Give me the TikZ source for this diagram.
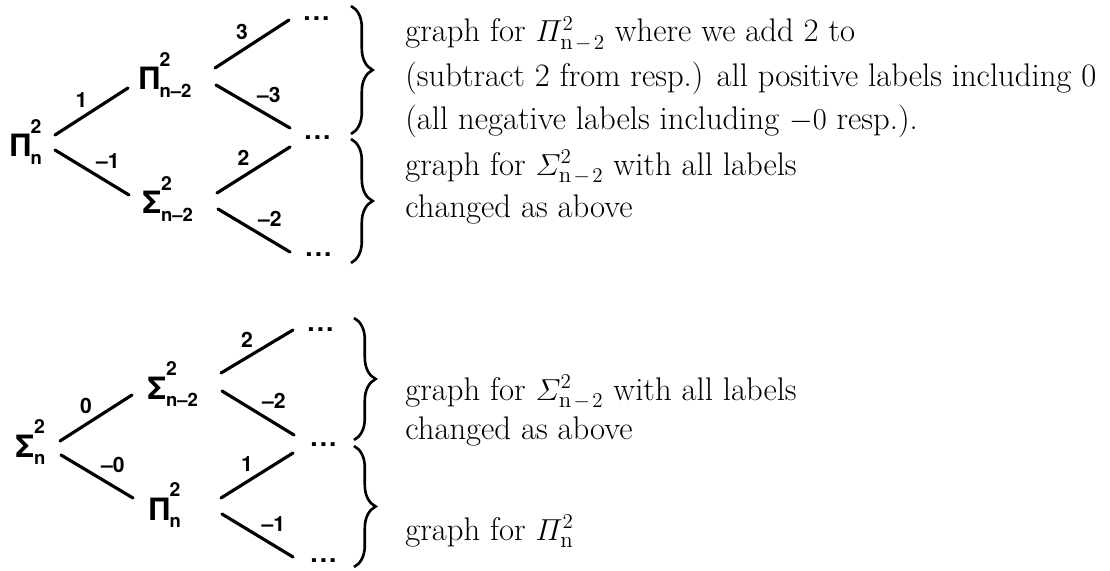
\documentclass[tikz,border=0pt]{standalone}
\usepackage{amsmath}
\usepackage{fontspec}
\newfontfamily\treefont{TeX Gyre Heros}
\usetikzlibrary{decorations.pathreplacing}

% big symbol with raised 2 and lowered index
\newcommand{\tsym}[3]{#1\rlap{\raisebox{13.5pt}{\fontsize{11}{11}\selectfont #2}}\raisebox{-4.5pt}{\fontsize{10.5}{11}\selectfont #3}}

\begin{document}
\begin{tikzpicture}[
    x=0.02cm, y=-0.02cm,
    tnode/.style={anchor=base west,inner sep=0pt,font=\treefont\bfseries\fontsize{17.5}{17.5}\selectfont},
    leaf/.style={anchor=base west,inner sep=0pt,font=\treefont\bfseries\fontsize{15}{15}\selectfont},
    elab/.style={auto,inner sep=1.5pt,font=\treefont\bfseries\fontsize{12}{12}\selectfont},
    branch/.style={line width=1.8pt,line cap=round},
    grpbrace/.style={decorate,decoration={brace,amplitude=12.3pt},line width=1.5pt},
    note/.style={anchor=base west,inner sep=0pt,font=\fontsize{18.6}{22}\selectfont}
]
\useasboundingbox (0,0) rectangle (1110,571);

% upper tree
\node[tnode] (r1) at (10,157) {\tsym{Π}{2}{n}};
\node[tnode] (a1) at (139,90) {\tsym{Π}{2}{n–2}};
\node[tnode] (b1) at (142,214) {\tsym{Σ}{2}{n–2}};
\node[leaf] (d1) at (303,21) {.\kern1.2pt.\kern1.2pt.};
\node[leaf] (d2) at (304,140) {.\kern1.2pt.\kern1.2pt.};
\node[leaf] (d3) at (305,256) {.\kern1.2pt.\kern1.2pt.};

\draw[branch] ([shift={(45,-22)}]r1.base west) -- node[elab] {1} ([shift={(-11,-2)}]a1.base west);
\draw[branch] ([shift={(45,-7)}]r1.base west) -- node[elab] {–1} ([shift={(-13,-19)}]b1.base west);
\draw[branch] ([shift={(76,-22)}]a1.base west) -- node[elab] {3} ([shift={(-14,-1)}]d1.base west);
\draw[branch] ([shift={(77,-5)}]a1.base west) -- node[elab] {–3} ([shift={(-14,-12)}]d2.base west);
\draw[branch] ([shift={(75,-21)}]b1.base west) -- node[elab] {2} ([shift={(-14,7)}]d2.base west);
\draw[branch] ([shift={(76,-5)}]b1.base west) -- node[elab] {–2} ([shift={(-15,-4)}]d3.base west);

\draw[grpbrace] (351,6) -- (351,134);
\draw[grpbrace] (351,139) -- (351,263);

\node[note] (t1) at (405,42) {graph for $\varPi^2_{\mathrm{n}\mskip2mu-\mskip2mu2}$ where we add 2 to};
\node[note] (t2) at (405,87) {(subtract 2 from resp.) all positive labels including 0};
\node[note] (t3) at (405,130) {(all negative labels including $-0$ resp.).};
\node[note] (t4) at (405,175) {graph for $\varSigma^2_{\mathrm{n}\mskip2mu-\mskip2mu2}$ with all labels};
\node[note] (t5) at (405,217) {changed as above};

% lower tree
\node[tnode] (r2) at (15,457) {\tsym{Σ}{2}{n}};
\node[tnode] (a2) at (147,399) {\tsym{Σ}{2}{n–2}};
\node[tnode] (b2) at (149,520) {\tsym{Π}{2}{n}};
\node[leaf] (d4) at (307,331) {.\kern1.2pt.\kern1.2pt.};
\node[leaf] (d5) at (310,446) {.\kern1.2pt.\kern1.2pt.};
\node[leaf] (d6) at (310,562) {.\kern1.2pt.\kern1.2pt.};

\draw[branch] ([shift={(45,-16)}]r2.base west) -- node[elab] {0} ([shift={(-15,-4)}]a2.base west);
\draw[branch] ([shift={(46,-2)}]r2.base west) -- node[elab] {–0} ([shift={(-16,-22)}]b2.base west);
\draw[branch] ([shift={(74,-26)}]a2.base west) -- node[elab] {2} ([shift={(-14,-1)}]d4.base west);
\draw[branch] ([shift={(75,-8)}]a2.base west) -- node[elab] {–2} ([shift={(-16,-11)}]d5.base west);
\draw[branch] ([shift={(72,-22)}]b2.base west) -- node[elab] {1} ([shift={(-17,7)}]d5.base west);
\draw[branch] ([shift={(73,-6)}]b2.base west) -- node[elab] {–1} ([shift={(-17,-5)}]d6.base west);

\draw[grpbrace] (354,318) -- (354,440);
\draw[grpbrace] (354,446) -- (354,567);

\node[note] (t6) at (405,400) {graph for $\varSigma^2_{\mathrm{n}\mskip2mu-\mskip2mu2}$ with all labels};
\node[note] (t7) at (405,439) {changed as above};
\node[note] (t8) at (405,540) {graph for $\varPi^2_{\mathrm{n}}$};

\end{tikzpicture}
\end{document}
